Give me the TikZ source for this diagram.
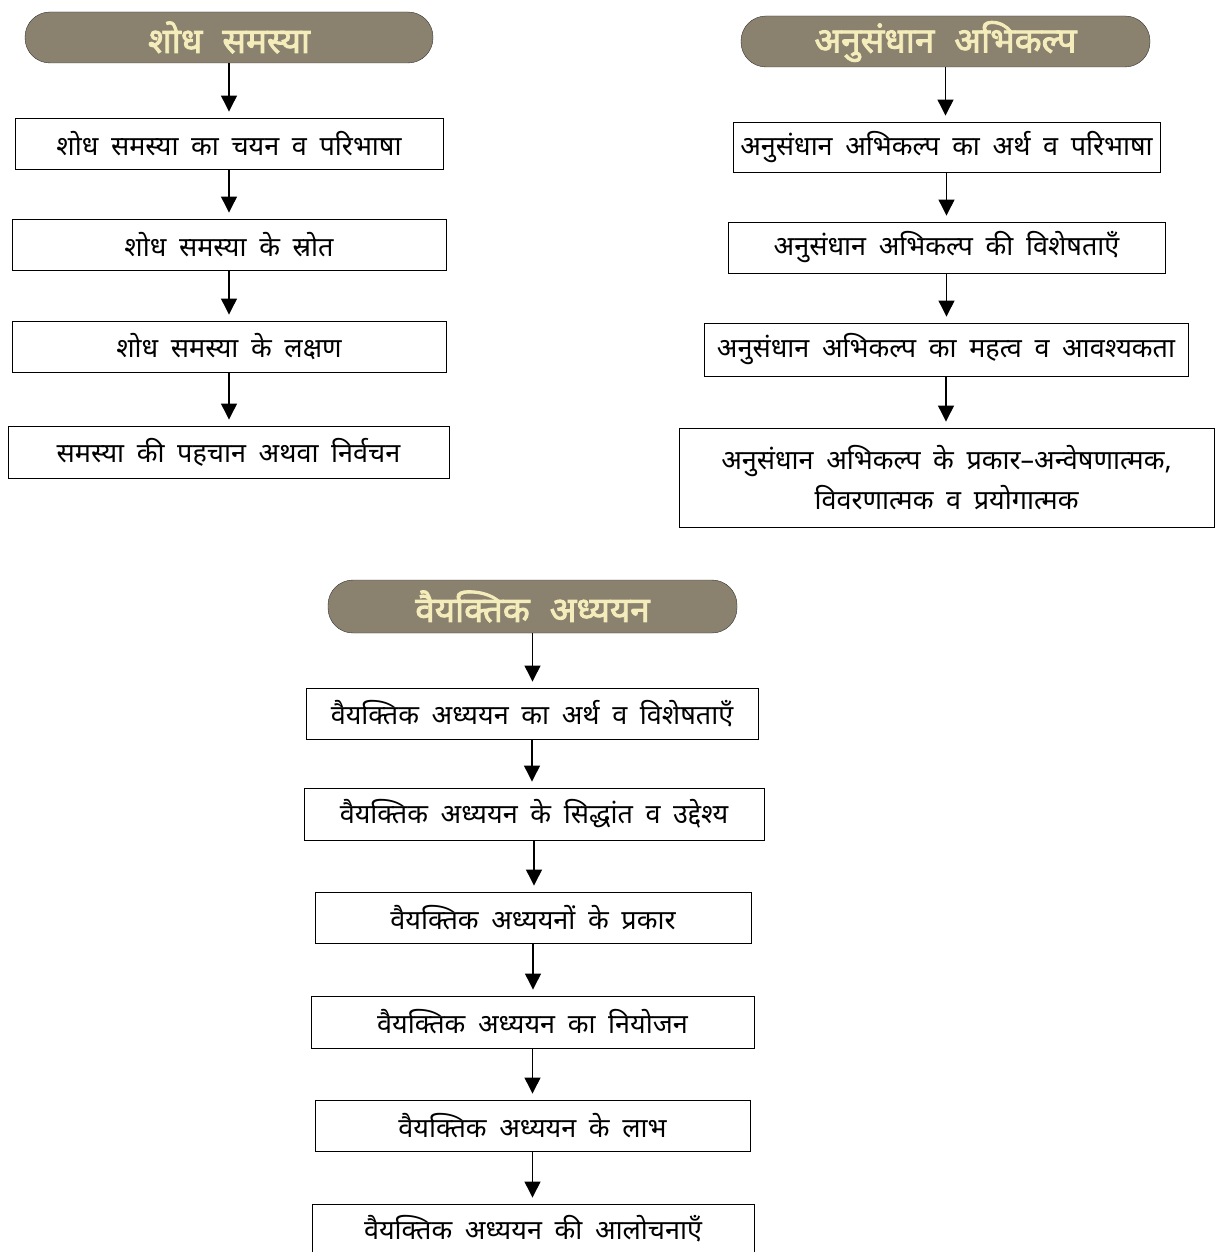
\documentclass[tikz,border=0pt]{standalone}
\usepackage{fontspec}
\newfontfamily\hindi[Script=Devanagari,WordSpace={1.8,1,1}]{Noto Sans}
\newfontfamily\hindibold[Script=Devanagari,FakeBold=2.5,WordSpace={2.2,1,1}]{Noto Sans}
\usetikzlibrary{arrows.meta}
\definecolor{headfill}{RGB}{138,130,110}
\definecolor{headtext}{RGB}{244,236,186}
\tikzset{
	head/.style={draw=black!80,fill=headfill,rounded corners=25,minimum width=408,minimum height=51,inner sep=0,text=headtext,font=\hindibold\fontsize{35}{36}\selectfont},
	box/.style={draw,line width=0.9pt,minimum height=51,inner sep=0,align=center,font=\hindi\fontsize{27}{40}\selectfont},
}
\begin{document}
\begin{tikzpicture}[>={Triangle[width=16pt,length=16pt]},x=1pt,y=-1pt]
		\useasboundingbox (0,0) rectangle (1219,1252);
		% cột trái
		\node[head] (s0) at (229,37.5) {शोध समस्या};
		\node[box,minimum width=428] (s1) at (229,143.5) {शोध समस्या का चयन व परिभाषा};
		\node[box,minimum width=434] (s2) at (229,244.5) {शोध समस्या के स्रोत};
		\node[box,minimum width=434] (s3) at (229,346.5) {शोध समस्या के लक्षण};
		\node[box,minimum width=441,minimum height=52] (s4) at (228.5,452) {समस्या की पहचान अथवा निर्वचन};
		% cột phải
		\node[head,minimum width=409] (r0) at (945.5,41.5) {अनुसंधान अभिकल्प};
		\node[box,minimum width=427,minimum height=50] (r1) at (946.5,147) {अनुसंधान अभिकल्प का अर्थ व परिभाषा};
		\node[box,minimum width=437] (r2) at (946.5,247.5) {अनुसंधान अभिकल्प की विशेषताएँ};
		\node[box,minimum width=484,minimum height=53] (r3) at (946,349.5) {अनुसंधान अभिकल्प का महत्व व आवश्यकता};
		\node[box,minimum width=535,minimum height=99] (r4) at (946.5,477.5) {अनुसंधान अभिकल्प के प्रकार–अन्वेषणात्मक,\\विवरणात्मक व प्रयोगात्मक};
		% cột dưới
		\node[head,minimum width=409,minimum height=53] (v0) at (532.5,606.5) {वैयक्तिक अध्ययन};
		\node[box,minimum width=452] (v1) at (532,713.5) {वैयक्तिक अध्ययन का अर्थ व विशेषताएँ};
		\node[box,minimum width=460,minimum height=52] (v2) at (534,814) {वैयक्तिक अध्ययन के सिद्धांत व उद्देश्य};
		\node[box,minimum width=436] (v3) at (533,917.5) {वैयक्तिक अध्ययनों के प्रकार};
		\node[box,minimum width=443,minimum height=52] (v4) at (532.5,1022) {वैयक्तिक अध्ययन का नियोजन};
		\node[box,minimum width=435] (v5) at (532.5,1125.5) {वैयक्तिक अध्ययन के लाभ};
		\node[box,minimum width=442,minimum height=50] (v6) at (533,1229) {वैयक्तिक अध्ययन की आलोचनाएँ};
		\foreach \a/\b in {s0/s1,s1/s2,s2/s3,s3/s4,r0/r1,r1/r2,r2/r3,r3/r4,v0/v1,v1/v2,v2/v3,v3/v4,v4/v5,v5/v6}
		\draw[->,line width=1.2pt,shorten >=6pt] (\a) -- (\a|-\b.north);
\end{tikzpicture}
\end{document}
